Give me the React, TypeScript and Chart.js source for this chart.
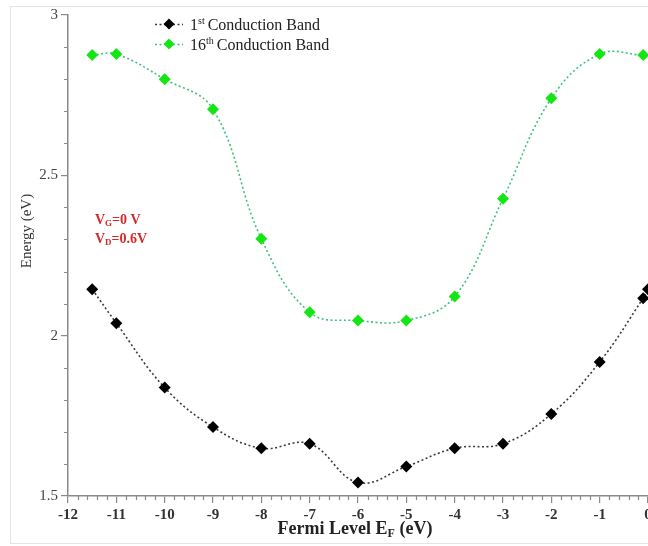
import React, { useEffect, useRef } from "react";
import { Chart, registerables } from "chart.js";

Chart.register(...registerables);

// ---- data ----
const band1X = [-11.5, -11, -10, -9, -8, -7, -6, -5, -4, -3, -2, -1, -0.1, 0];
const band1Y = [2.145, 2.039, 1.838, 1.715, 1.649, 1.663, 1.542, 1.592, 1.649, 1.663, 1.756, 1.918, 2.117, 2.145];
const band16X = [-11.5, -11, -10, -9, -8, -7, -6, -5, -4, -3, -2, -1, -0.1];
const band16Y = [2.875, 2.878, 2.8, 2.706, 2.302, 2.073, 2.047, 2.047, 2.122, 2.427, 2.74, 2.878, 2.875];
const xTickValues = [-12, -11, -10, -9, -8, -7, -6, -5, -4, -3, -2, -1, 0];
const yTickValues = [1.5, 2, 2.5, 3];
const legendNumbers = ["1", "16"];
const legendSups = ["st", "th"];
const legendRest = " Conduction Band";
const xTitleParts = ["Fermi Level E", "F", " (eV)"];
const yTitle = "Energy (eV)";
const noteLines = [
  ["V", "G", "=0 V"],
  ["V", "D", "=0.6V"],
];

const SERIF = "'Liberation Serif', 'Times New Roman', serif";
const AXIS = "#8a8a8a";
const BLACK_LINE = "#3a3a3a";
const BLACK_PT = "#000000";
const GREEN_LINE = "rgba(50,190,120,0.95)";
const GREEN_PT = "#14e614";
const RED = "#d42a2a";

function drawDiamond(ctx: CanvasRenderingContext2D, x: number, y: number, r: number, color: string) {
  ctx.beginPath();
  ctx.moveTo(x, y - r);
  ctx.lineTo(x + r, y);
  ctx.lineTo(x, y + r);
  ctx.lineTo(x - r, y);
  ctx.closePath();
  ctx.fillStyle = color;
  ctx.fill();
}

const decorPlugin = {
  id: "decor",
  beforeDraw(chart: any) {
    const ctx = chart.ctx as CanvasRenderingContext2D;
    ctx.save();
    ctx.strokeStyle = "#e4e4e4";
    ctx.lineWidth = 1;
    ctx.strokeRect(10.5, 6.5, 800, 537);
    ctx.restore();
  },
  afterDraw(chart: any) {
    const ctx = chart.ctx as CanvasRenderingContext2D;
    const { chartArea, scales } = chart;
    const xs = scales.x;
    const ys = scales.y;
    ctx.save();
    // minor ticks
    ctx.strokeStyle = AXIS;
    ctx.lineWidth = 1.2;
    ctx.beginPath();
    for (let i = 0; i <= 60; i++) {
      if (i % 5 === 0) continue;
      const v = -12 + i * 0.2;
      const px = Math.round(xs.getPixelForValue(v)) + 0.5;
      ctx.moveTo(px, chartArea.bottom);
      ctx.lineTo(px, chartArea.bottom + 4);
    }
    for (let i = 0; i <= 15; i++) {
      if (i % 5 === 0) continue;
      const v = 1.5 + i * 0.1;
      const py = Math.round(ys.getPixelForValue(v)) + 0.5;
      ctx.moveTo(chartArea.left - 4, py);
      ctx.lineTo(chartArea.left, py);
    }
    ctx.stroke();

    // y title
    ctx.save();
    ctx.translate(27, 231);
    ctx.rotate(-Math.PI / 2);
    ctx.font = `15px ${SERIF}`;
    ctx.fillStyle = "#333";
    ctx.textAlign = "center";
    ctx.textBaseline = "middle";
    ctx.fillText(yTitle, 0, 0);
    ctx.restore();

    // x title with subscript
    const big = `bold 18px ${SERIF}`;
    const small = `bold 12px ${SERIF}`;
    ctx.font = big;
    const w1 = ctx.measureText(xTitleParts[0]).width;
    const w3 = ctx.measureText(xTitleParts[2]).width;
    ctx.font = small;
    const w2 = ctx.measureText(xTitleParts[1]).width;
    const total = w1 + w2 + w3;
    let tx = (chartArea.left + chartArea.right) / 2 - total / 2 - 3;
    const ty = 534;
    ctx.fillStyle = "#222";
    ctx.textAlign = "left";
    ctx.textBaseline = "alphabetic";
    ctx.font = big;
    ctx.fillText(xTitleParts[0], tx, ty);
    tx += w1;
    ctx.font = small;
    ctx.fillText(xTitleParts[1], tx, ty + 3);
    tx += w2;
    ctx.font = big;
    ctx.fillText(xTitleParts[2], tx, ty);

    // legend
    const legendColors = [
      [BLACK_LINE, BLACK_PT],
      [GREEN_LINE, GREEN_PT],
    ];
    const legendY = [24, 44];
    for (let i = 0; i < 2; i++) {
      const ly = legendY[i];
      ctx.save();
      ctx.strokeStyle = legendColors[i][0];
      ctx.lineWidth = 1.6;
      ctx.setLineDash([2, 2.5]);
      ctx.beginPath();
      ctx.moveTo(155, ly + 0.5);
      ctx.lineTo(183, ly + 0.5);
      ctx.stroke();
      ctx.restore();
      drawDiamond(ctx, 169, ly, 5.5, legendColors[i][1]);
      ctx.fillStyle = "#222";
      ctx.textBaseline = "alphabetic";
      let lx = 190;
      const base = ly + 5.5;
      ctx.font = `16px ${SERIF}`;
      ctx.fillText(legendNumbers[i], lx, base);
      lx += ctx.measureText(legendNumbers[i]).width;
      ctx.font = `10px ${SERIF}`;
      ctx.fillText(legendSups[i], lx, base - 6);
      lx += ctx.measureText(legendSups[i]).width;
      ctx.font = `16px ${SERIF}`;
      ctx.fillText(legendRest, lx - 1, base);
    }

    // annotation
    const noteY = [224, 243];
    for (let i = 0; i < noteLines.length; i++) {
      let nx = 95;
      const [a, sub, rest] = noteLines[i];
      ctx.fillStyle = RED;
      ctx.font = `bold 14px ${SERIF}`;
      ctx.fillText(a, nx, noteY[i]);
      nx += ctx.measureText(a).width;
      ctx.font = `bold 9px ${SERIF}`;
      ctx.fillText(sub, nx, noteY[i] + 2);
      nx += ctx.measureText(sub).width;
      ctx.font = `bold 14px ${SERIF}`;
      ctx.fillText(rest, nx, noteY[i]);
    }
    ctx.restore();
  },
};

export default function App() {
  const canvasRef = useRef<HTMLCanvasElement | null>(null);

  useEffect(() => {
    if (!canvasRef.current) return;
    const chart = new Chart(canvasRef.current, {
      type: "line",
      data: {
        datasets: [
          {
            label: "1st Conduction Band",
            data: band1X.map((x, i) => ({ x, y: band1Y[i] })),
            borderColor: BLACK_LINE,
            borderWidth: 1.6,
            borderDash: [2, 2.5],
            pointStyle: "rectRot",
            pointRadius: 6,
            pointBackgroundColor: BLACK_PT,
            pointBorderColor: BLACK_PT,
            pointBorderWidth: 0,
            tension: 0.4,
            fill: false,
          },
          {
            label: "16th Conduction Band",
            data: band16X.map((x, i) => ({ x, y: band16Y[i] })),
            borderColor: GREEN_LINE,
            borderWidth: 1.6,
            borderDash: [2, 2.5],
            pointStyle: "rectRot",
            pointRadius: 6,
            pointBackgroundColor: GREEN_PT,
            pointBorderColor: GREEN_PT,
            pointBorderWidth: 0,
            tension: 0.4,
            fill: false,
          },
        ],
      },
      options: {
        animation: false,
        responsive: false,
        maintainAspectRatio: false,
        layout: { padding: { left: 0, right: 52, top: 15, bottom: 0 } },
        plugins: {
          legend: { display: false },
          tooltip: { enabled: false },
          title: { display: false },
        },
        scales: {
          x: {
            type: "linear",
            position: "bottom",
            min: -12,
            max: 0,
            afterBuildTicks: (s: any) => {
              s.ticks = xTickValues.map((v) => ({ value: v }));
            },
            afterFit: (s: any) => {
              s.height = 50;
            },
            ticks: {
              autoSkip: false,
              maxRotation: 0,
              padding: 3,
              color: "#333",
              font: { family: SERIF, size: 15, weight: "bold" },
              callback: (v: any) => String(v),
            },
            grid: {
              display: true,
              drawOnChartArea: false,
              drawTicks: true,
              tickLength: 7,
              color: AXIS,
              lineWidth: 1.2,
            },
            border: { display: true, color: AXIS, width: 1.5 },
          },
          y: {
            type: "linear",
            min: 1.5,
            max: 3,
            afterBuildTicks: (s: any) => {
              s.ticks = yTickValues.map((v) => ({ value: v }));
            },
            afterFit: (s: any) => {
              s.width = 68;
            },
            ticks: {
              padding: 3,
              color: "#444",
              font: { family: SERIF, size: 15 },
              callback: (v: any) => String(v),
            },
            grid: {
              display: true,
              drawOnChartArea: false,
              drawTicks: true,
              tickLength: 7,
              color: AXIS,
              lineWidth: 1.2,
            },
            border: { display: true, color: AXIS, width: 1.5 },
          },
        },
      },
      plugins: [decorPlugin],
    } as any);
    return () => chart.destroy();
  }, []);

  return (
    <div
      style={{
        position: "absolute",
        left: 0,
        top: 0,
        width: 648,
        height: 546,
        overflow: "hidden",
        background: "#fff",
      }}
    >
      <canvas ref={canvasRef} width={700} height={546} style={{ display: "block", width: 700, height: 546 }} />
    </div>
  );
}
